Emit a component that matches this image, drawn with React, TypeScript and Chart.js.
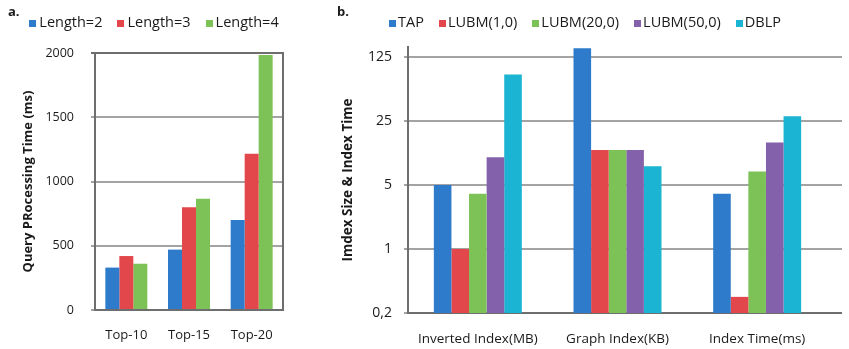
import React, { useEffect, useRef } from 'react';
import { Chart, registerables } from 'chart.js';

Chart.register(...registerables);

const FONT = "'Open Sans', sans-serif";
const TEXT = '#1a1a1a';

// ---- Chart a. ----
const categoriesA = ['Top-10', 'Top-15', 'Top-20'];
const seriesNamesA = ['Length=2', 'Length=3', 'Length=4'];
const length2 = [330, 470, 700];
const length3 = [420, 800, 1215];
const length4 = [360, 865, 1985];
const yTicksA = [0, 500, 1000, 1500, 2000];
const yTickLabelsA = ['0', '500', '1000', '1500', '2000'];

// ---- Chart b. ----
const categoriesB = ['Inverted Index(MB)', 'Graph Index(KB)', 'Index Time(ms)'];
const seriesNamesB = ['TAP', 'LUBM(1,0)', 'LUBM(20,0)', 'LUBM(50,0)', 'DBLP'];
const tap = [5, 155, 4];
const lubm1 = [1, 12, 0.3];
const lubm20 = [4, 12, 7];
const lubm50 = [10, 12, 14.5];
const dblp = [80, 8, 28];
const yTickValuesB = [0.2, 1, 5, 25, 125];
const yTickLabelsB = ['0,2', '1', '5', '25', '125'];

const BLUE = '#2e7bcb';
const RED = '#e2484b';
const GREEN = '#7cc257';
const PURPLE = '#8462ab';
const CYAN = '#1bb4d2';

const AXIS = '#6e6e6e';
const GRID = '#a3a3a3';

const boxLegend = {
  id: 'boxLegend',
  afterDraw(chart: any, _args: any, o: any) {
    const ctx = chart.ctx;
    ctx.save();
    ctx.font = `${o.fontSize}px ${FONT}`;
    const items = chart.data.datasets.map((ds: any) => ({
      label: ds.label,
      color: ds.backgroundColor,
      w: ctx.measureText(ds.label).width,
    }));
    const total =
      items.reduce((s: number, it: any) => s + o.box + o.gap + it.w, 0) + o.spacing * (items.length - 1);
    let x = o.cx - total / 2;
    ctx.textBaseline = 'middle';
    ctx.textAlign = 'left';
    for (const it of items) {
      ctx.fillStyle = it.color;
      ctx.fillRect(Math.round(x), Math.round(o.cy - o.box / 2), o.box, o.box);
      x += o.box + o.gap;
      ctx.fillStyle = TEXT;
      ctx.fillText(it.label, x, o.cy);
      x += it.w + o.spacing;
    }
    ctx.restore();
  },
};

const frame = {
  id: 'frame',
  afterDraw(chart: any, _args: any, o: any) {
    const { ctx, chartArea: a } = chart;
    ctx.save();
    if (o.rightBorder) {
      ctx.strokeStyle = o.axisColor;
      ctx.lineWidth = 2;
      ctx.beginPath();
      ctx.moveTo(a.right, a.top - 1);
      ctx.lineTo(a.right, a.bottom + 1);
      ctx.stroke();
    }
    if (o.extendTo) {
      const ys = chart.scales.y;
      ys.ticks.forEach((t: any) => {
        const py = Math.round(ys.getPixelForValue(t.value));
        const isBase = t.value === ys.min;
        ctx.strokeStyle = isBase ? o.axisColor : o.gridColor;
        ctx.lineWidth = 2;
        ctx.beginPath();
        ctx.moveTo(a.right - 1, py);
        ctx.lineTo(o.extendTo, py);
        ctx.stroke();
      });
    }
    ctx.restore();
  },
};

function ChartA() {
  const ref = useRef<HTMLCanvasElement>(null);
  useEffect(() => {
    const chart = new Chart(ref.current as HTMLCanvasElement, {
      type: 'bar',
      data: {
        labels: categoriesA,
        datasets: [
          { label: seriesNamesA[0], data: length2, backgroundColor: BLUE },
          { label: seriesNamesA[1], data: length3, backgroundColor: RED },
          { label: seriesNamesA[2], data: length4, backgroundColor: GREEN },
        ],
      },
      options: {
        responsive: false,
        animation: false,
        layout: { padding: { top: 53, right: 17, left: 0, bottom: 0 } },
        datasets: { bar: { categoryPercentage: 0.67, barPercentage: 1 } },
        plugins: {
          legend: { display: false },
          tooltip: { enabled: false },
          boxLegend: { cx: 154, cy: 23, box: 7, gap: 3, spacing: 15, fontSize: 14.5 },
          frame: { rightBorder: true, axisColor: AXIS },
        } as any,
        scales: {
          x: {
            grid: { display: false, drawTicks: false },
            border: { color: AXIS, width: 2 },
            ticks: { padding: 17, color: TEXT, font: { family: FONT, size: 13 } },
            afterFit: (s: any) => {
              s.height = 39;
            },
          },
          y: {
            min: 0,
            max: 2000,
            afterBuildTicks: (s: any) => {
              s.ticks = yTicksA.map((v) => ({ value: v }));
            },
            grid: {
              color: (c: any) => (c.tick && c.tick.value === 2000 ? AXIS : GRID),
              lineWidth: 2,
              tickLength: 4,
            },
            border: { color: AXIS, width: 2 },
            ticks: {
              padding: 17,
              color: TEXT,
              font: { family: FONT, size: 12.5 },
              callback: (_v: any, i: number) => yTickLabelsA[i],
            },
            title: {
              display: true,
              text: 'Query PRocessing Time (ms)',
              color: TEXT,
              font: { family: FONT, size: 13, weight: 'bold' },
              padding: { top: 20, bottom: 0 },
            },
            afterFit: (s: any) => {
              s.width = 95;
            },
          },
        },
      },
      plugins: [boxLegend, frame],
    } as any);
    return () => chart.destroy();
  }, []);
  return (
    <canvas
      ref={ref}
      width={300}
      height={349}
      style={{ position: 'absolute', left: 0, top: 0, width: 300, height: 349 }}
    />
  );
}

function ChartB() {
  const ref = useRef<HTMLCanvasElement>(null);
  useEffect(() => {
    const chart = new Chart(ref.current as HTMLCanvasElement, {
      type: 'bar',
      data: {
        labels: categoriesB,
        datasets: [
          { label: seriesNamesB[0], data: tap, backgroundColor: BLUE },
          { label: seriesNamesB[1], data: lubm1, backgroundColor: RED },
          { label: seriesNamesB[2], data: lubm20, backgroundColor: GREEN },
          { label: seriesNamesB[3], data: lubm50, backgroundColor: PURPLE },
          { label: seriesNamesB[4], data: dblp, backgroundColor: CYAN },
        ],
      },
      options: {
        responsive: false,
        animation: false,
        layout: { padding: { top: 47, right: 22, left: 0, bottom: 0 } },
        datasets: { bar: { categoryPercentage: 0.63, barPercentage: 1 } },
        plugins: {
          legend: { display: false },
          tooltip: { enabled: false },
          boxLegend: { cx: 265, cy: 23, box: 7, gap: 2, spacing: 15, fontSize: 14.5 },
          frame: { extendTo: 522, axisColor: AXIS, gridColor: GRID },
        } as any,
        scales: {
          x: {
            grid: { display: false, drawTicks: false },
            border: { color: AXIS, width: 2 },
            ticks: { padding: 18, color: TEXT, font: { family: FONT, size: 13.5 } },
            afterFit: (s: any) => {
              s.height = 36;
            },
          },
          y: {
            type: 'logarithmic',
            min: 0.2,
            max: 160,
            afterBuildTicks: (s: any) => {
              s.ticks = yTickValuesB.map((v) => ({ value: v }));
            },
            grid: { color: GRID, lineWidth: 2, tickLength: 4 },
            border: { color: AXIS, width: 2 },
            ticks: {
              padding: 12,
              color: TEXT,
              font: { family: FONT, size: 14 },
              callback: (_v: any, i: number) => yTickLabelsB[i],
            },
            title: {
              display: true,
              text: 'Imdex Size & Index Time',
              color: TEXT,
              font: { family: FONT, size: 13.5, weight: 'bold' },
              padding: { top: 20, bottom: 0 },
            },
            afterFit: (s: any) => {
              s.width = 88;
            },
          },
        },
      },
      plugins: [boxLegend, frame],
    } as any);
    return () => chart.destroy();
  }, []);
  return (
    <canvas
      ref={ref}
      width={529}
      height={349}
      style={{ position: 'absolute', left: 320, top: 0, width: 529, height: 349 }}
    />
  );
}

const tagStyle: React.CSSProperties = {
  position: 'absolute',
  top: 5,
  fontFamily: FONT,
  fontWeight: 'bold',
  fontSize: 13,
  lineHeight: '13px',
  color: TEXT,
};

export default function App() {
  return (
    <div
      style={{
        position: 'absolute',
        left: 0,
        top: 0,
        width: 849,
        height: 349,
        background: '#ffffff',
        overflow: 'hidden',
      }}
    >
      <ChartA />
      <ChartB />
      <div style={{ ...tagStyle, left: 8 }}>a.</div>
      <div style={{ ...tagStyle, left: 337 }}>b.</div>
    </div>
  );
}
